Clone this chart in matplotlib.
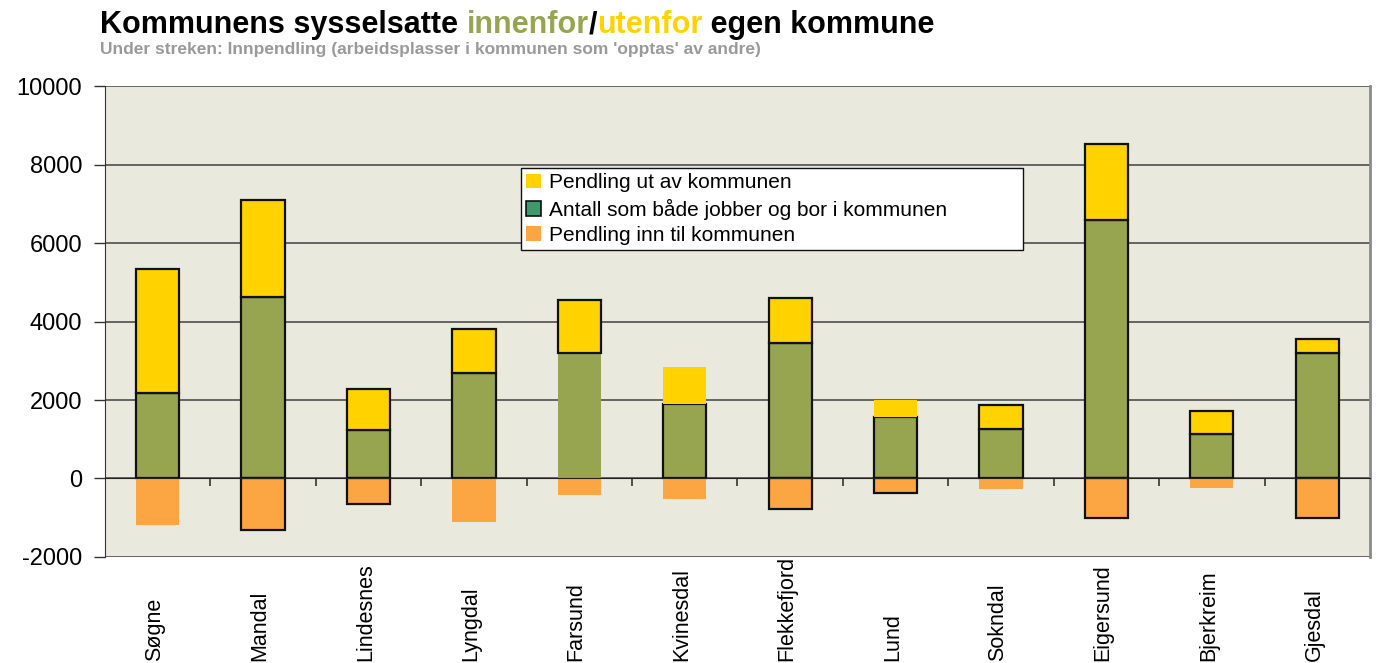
import matplotlib
matplotlib.use("Agg")
import matplotlib.pyplot as plt
import matplotlib.transforms as mtransforms
from matplotlib.patches import Patch
import numpy as np

plt.rcParams["font.family"] = ["Liberation Sans", "DejaVu Sans"]
plt.rcParams["axes.unicode_minus"] = False

kommuner = ["Søgne", "Mandal", "Lindesnes", "Lyngdal", "Farsund", "Kvinesdal",
            "Flekkefjord", "Lund", "Sokndal", "Eigersund", "Bjerkreim", "Gjesdal"]
bor_og_jobber = [2170, 4630, 1240, 2680, 3210, 1910, 3450, 1570, 1270, 6580, 1130, 3190]
pendling_ut = [3180, 2480, 1050, 1120, 1340, 920, 1140, 420, 610, 1940, 600, 370]
pendling_inn = [-1180, -1310, -640, -1100, -420, -520, -770, -380, -280, -1020, -250, -1000]

# some segments in the original are drawn without outline
kant_ut = [1, 1, 1, 1, 1, 0, 1, 0, 1, 1, 1, 1]
kant_bor = [1, 1, 1, 1, 0, 1, 1, 1, 1, 1, 1, 1]
kant_inn = [0, 1, 1, 0, 0, 0, 1, 1, 0, 1, 0, 1]

C_GREEN = "#98A550"
C_YELLOW = "#FFD200"
C_ORANGE = "#FBA642"
C_BG = "#E9EADD"

fig = plt.figure(figsize=(13.81, 6.63), dpi=100)
fig.patch.set_facecolor("white")
ax = fig.add_axes([0.076, 0.160, 0.916, 0.710])
ax.set_facecolor(C_BG)

x = np.arange(len(kommuner))
w = 0.41


def edges(flags):
    return ["#111111" if f else "none" for f in flags]


ax.bar(x, bor_og_jobber, w, color=C_GREEN, edgecolor=edges(kant_bor), linewidth=1.6, zorder=3)
ax.bar(x, pendling_ut, w, bottom=bor_og_jobber, color=C_YELLOW,
       edgecolor=edges(kant_ut), linewidth=1.6, zorder=3)
ax.bar(x, pendling_inn, w, color=C_ORANGE, edgecolor=edges(kant_inn), linewidth=1.6, zorder=3)

ax.set_xlim(-0.5, len(kommuner) - 0.5)
ax.set_ylim(-2000, 10000)
ax.set_yticks(np.arange(-2000, 10001, 2000))
ax.yaxis.grid(True, color="#5a5a5a", linewidth=1.3, zorder=1)
ax.tick_params(axis="y", labelsize=17, length=8, width=1, color="#333333", pad=8.5)

# category ticks at the boundaries on the zero line
ax.spines["bottom"].set_position(("data", 0))
ax.spines["bottom"].set_color("#222222")
ax.spines["bottom"].set_zorder(4)
ax.set_xticks(np.arange(0.5, len(kommuner) - 0.5, 1.0))
ax.set_xticklabels([])
ax.tick_params(axis="x", length=6, width=1.2, color="#333333", direction="out")
ax.spines["top"].set_visible(False)
ax.spines["left"].set_color("#333333")
ax.spines["right"].set_color("#8a8a8a")
ax.spines["right"].set_linewidth(2)

trans = mtransforms.blended_transform_factory(ax.transData, fig.transFigure)
for xi, navn in zip(x, kommuner):
    ax.text(xi - 0.03, 0.003, navn, transform=trans, rotation=90, fontsize=15.5,
            ha="center", va="bottom", clip_on=False)

handles = [Patch(facecolor=C_YELLOW, edgecolor="none"),
           Patch(facecolor="#3A9A6A", edgecolor="#111111", linewidth=1.2),
           Patch(facecolor=C_ORANGE, edgecolor="none")]
labels = ["Pendling ut av kommunen", "Antall som både jobber og bor i kommunen",
          "Pendling inn til kommunen"]
leg = ax.legend(handles, labels, loc="upper left", mode="expand",
                bbox_to_anchor=(0.3289, 0.656, 0.397, 0.17),
                borderaxespad=0, fontsize=15, frameon=True, fancybox=False,
                framealpha=1, edgecolor="#111111", handlelength=0.7, handleheight=0.7,
                handletextpad=0.4, labelspacing=0.3, borderpad=0.25)
leg.get_frame().set_linewidth(1.0)
leg.set_zorder(5)

# title with coloured words
fig.canvas.draw()
renderer = fig.canvas.get_renderer()
parts = [("Kommunens sysselsatte ", "black"), ("innenfor", C_GREEN),
         ("/", "black"), ("utenfor", C_YELLOW), (" egen kommune", "black")]
xpos = 100
for txt, col in parts:
    t = fig.text(xpos / 1381, 1 - 33 / 663, txt, color=col, fontsize=22,
                 fontweight="bold", ha="left", va="baseline")
    bb = t.get_window_extent(renderer=renderer)
    xpos += bb.width

fig.text(100 / 1381, 1 - 54 / 663,
         "Under streken: Innpendling (arbeidsplasser i kommunen som 'opptas' av andre)",
         color="#9a9a9a", fontsize=12.5, fontweight="bold", ha="left", va="baseline")

fig.savefig("out.png", dpi=100, facecolor="white")
